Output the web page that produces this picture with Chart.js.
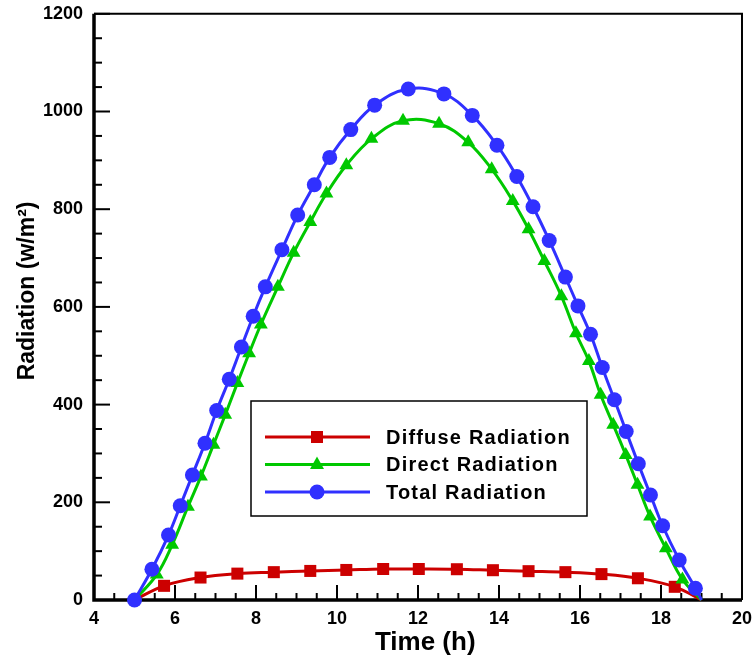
<!DOCTYPE html>
<html>
<head>
<meta charset="utf-8">
<script src="https://cdn.jsdelivr.net/npm/chart.js@4"></script>
<style>
  body { margin: 0; background: #fff; }
  #wrap { width: 752px; height: 660px; }
</style>
</head>
<body>
<div id="wrap"><canvas id="myChart"></canvas></div>
<script>
// values: hour, W/m2
const diffuseHours = [5, 5.73, 6.63, 7.54, 8.44, 9.34, 10.23, 11.14, 12.02, 12.96, 13.85, 14.73, 15.64, 16.53, 17.43, 18.34, 19];
const diffuseValues = [0, 29, 46, 54, 57, 59.5, 61.5, 63.5, 63.5, 63, 61, 59, 57, 53, 44.5, 27, 0];

const directHours = [5, 5.55, 5.93, 6.32, 6.64, 6.95, 7.24, 7.54, 7.83, 8.12, 8.54, 8.93, 9.34, 9.74, 10.23, 10.85, 11.63, 12.52, 13.24, 13.82, 14.34, 14.73, 15.12, 15.54, 15.9, 16.22, 16.51, 16.82, 17.13, 17.42, 17.73, 18.12, 18.53, 19];
const directValues = [0, 52, 113, 191, 253, 318, 379, 444, 505, 564, 641, 711, 774, 832, 890, 944, 981, 975, 937, 882, 817, 759, 694, 622, 546, 489, 420, 359, 297, 236, 171, 106, 42, 0];

const totalHours = [5, 5.43, 5.84, 6.13, 6.43, 6.74, 7.03, 7.34, 7.64, 7.93, 8.23, 8.64, 9.03, 9.44, 9.82, 10.34, 10.93, 11.76, 12.64, 13.34, 13.95, 14.44, 14.84, 15.24, 15.64, 15.95, 16.26, 16.55, 16.85, 17.14, 17.44, 17.74, 18.04, 18.45, 18.85, 19];
const totalValues = [0, 63, 133, 193, 256, 321, 388, 452, 518, 581, 641, 717, 788, 850, 906, 963, 1013, 1046, 1036, 992, 931, 867, 805, 736, 661, 602, 544, 476, 410, 345, 279, 215, 152, 82, 24, 0];

const seriesNames = ['Diffuse Radiation', 'Direct Radiation', 'Total Radiation'];
const xTicks = [4, 6, 8, 10, 12, 14, 16, 18, 20];
const yTicks = [0, 200, 400, 600, 800, 1000, 1200];

const FONT = '"Liberation Sans", Arial, sans-serif';
const RED = '#cc0000', GREEN = '#00c800', BLUE = '#3030ff';
const NB = '\u00a0';

function pts(xs, ys) { return xs.map((x, i) => ({x: x, y: ys[i]})); }

// markers everywhere except where the curve just touches zero
const isEnd = c => c.dataIndex === 0 || c.dataIndex === c.dataset.data.length - 1;

// inward ticks + frame, drawn like the original plot
const frameTicks = {
  id: 'frameTicks',
  beforeDatasetsDraw(chart) {
    const {ctx, chartArea: a, scales: {x, y}} = chart;
    ctx.save();
    ctx.strokeStyle = '#000';
    ctx.lineWidth = 2;
    for (let v = 4; v <= 20; v += 0.5) {
      const px = x.getPixelForValue(v);
      const len = (v % 2 === 0) ? 15 : 7;
      ctx.beginPath(); ctx.moveTo(px, a.bottom); ctx.lineTo(px, a.bottom - len); ctx.stroke();
    }
    for (let v = 0; v <= 1200; v += 50) {
      const py = y.getPixelForValue(v);
      const len = (v % 200 === 0) ? 16 : 8;
      ctx.beginPath(); ctx.moveTo(a.left, py); ctx.lineTo(a.left + len, py); ctx.stroke();
    }
    ctx.lineWidth = 2;
    ctx.beginPath();
    ctx.moveTo(a.left, a.top); ctx.lineTo(a.right, a.top); ctx.lineTo(a.right, a.bottom);
    ctx.stroke();
    ctx.lineWidth = 3.5;
    ctx.beginPath();
    ctx.moveTo(a.left, a.top); ctx.lineTo(a.left, a.bottom); ctx.lineTo(a.right, a.bottom);
    ctx.stroke();
    ctx.restore();
  },
  afterDatasetsDraw(chart) {
    const ctx = chart.ctx;
    const bx = 251, by = 401, bw = 336, bh = 115;
    ctx.save();
    ctx.fillStyle = '#fff';
    ctx.fillRect(bx, by, bw, bh);
    ctx.strokeStyle = '#000';
    ctx.lineWidth = 1.5;
    ctx.strokeRect(bx, by, bw, bh);
    chart.data.datasets.forEach((ds, i) => {
      const ry = 437 + i * 27.5;
      ctx.strokeStyle = ds.borderColor;
      ctx.lineWidth = 3;
      ctx.beginPath(); ctx.moveTo(265, ry); ctx.lineTo(370, ry); ctx.stroke();
      ctx.fillStyle = ds.backgroundColor;
      ctx.beginPath();
      if (ds.pointStyle === 'rect') {
        ctx.rect(317 - 6, ry - 6, 12, 12);
      } else if (ds.pointStyle === 'triangle') {
        ctx.moveTo(317, ry - 8); ctx.lineTo(317 + 7, ry + 4.5); ctx.lineTo(317 - 7, ry + 4.5); ctx.closePath();
      } else {
        ctx.arc(317, ry, 7.5, 0, Math.PI * 2);
      }
      ctx.fill();
      ctx.fillStyle = '#000';
      ctx.font = 'bold 20px ' + FONT;
      ctx.textBaseline = 'middle';
      ctx.letterSpacing = '1.2px';
      ctx.fillText(ds.label, 386, ry + 1);
    });
    ctx.restore();
  }
};

const ctx = document.getElementById('myChart').getContext('2d');

const myChart = new Chart(ctx, {
  type: 'line',
  data: {
    datasets: [{
      label: seriesNames[0],
      data: pts(diffuseHours, diffuseValues),
      borderColor: RED,
      backgroundColor: RED,
      pointStyle: 'rect',
      pointRadius: c => isEnd(c) ? 0 : 8.5,
      borderWidth: 3,
      order: 3
    }, {
      label: seriesNames[1],
      data: pts(directHours, directValues),
      borderColor: GREEN,
      backgroundColor: GREEN,
      pointStyle: 'triangle',
      pointRadius: c => isEnd(c) ? 0 : 8,
      borderWidth: 3,
      order: 2
    }, {
      label: seriesNames[2],
      data: pts(totalHours, totalValues),
      borderColor: BLUE,
      backgroundColor: BLUE,
      pointStyle: 'circle',
      pointRadius: c => c.dataIndex === c.dataset.data.length - 1 ? 0 : 7.5,
      borderWidth: 3,
      order: 1
    }]
  },
  options: {
    responsive: true,
    maintainAspectRatio: false,
    animation: false,
    datasets: {
      line: {
        tension: 0.4,
        clip: false,
        pointBorderWidth: 0,
        pointHoverRadius: 0
      }
    },
    layout: { padding: { left: 0, right: 5, top: 11, bottom: 0 } },
    plugins: {
      legend: { display: false },
      tooltip: { enabled: false }
    },
    scales: {
      x: {
        type: 'linear',
        min: 4, max: 20,
        afterFit: s => { s.height = 60; },
        afterBuildTicks: s => { s.ticks = xTicks.map(v => ({value: v})); },
        grid: { display: false },
        border: { display: false },
        ticks: { color: '#000', padding: 0, font: { family: FONT, size: 18, weight: 'bold' } },
        title: {
          display: true, text: NB + NB + 'Time (h)', color: '#000',
          font: { family: FONT, size: 26, weight: 'bold' },
          padding: { top: 2, bottom: 2 }
        }
      },
      y: {
        min: 0, max: 1200,
        afterFit: s => { s.width = 94; },
        afterBuildTicks: s => { s.ticks = yTicks.map(v => ({value: v})); },
        grid: { display: false },
        border: { display: false },
        ticks: {
          color: '#000', padding: 3,
          font: { family: FONT, size: 18, weight: 'bold' },
          callback: v => String(v)
        },
        title: {
          display: true, text: NB.repeat(5) + 'Radiation (w/m\u00b2)', color: '#000',
          font: { family: FONT, size: 23, weight: 'bold' },
          padding: { top: 14, bottom: 0 }
        }
      }
    }
  },
  plugins: [frameTicks]
});
</script>
</body>
</html>
